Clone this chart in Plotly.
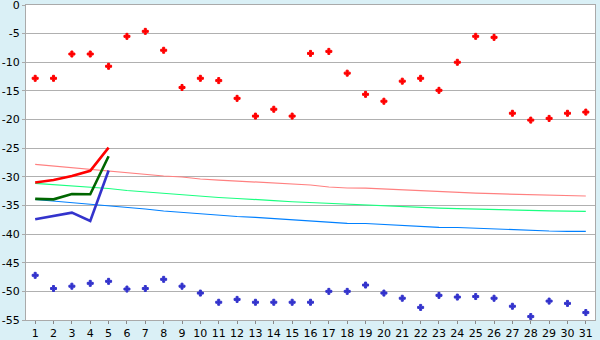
import plotly.graph_objects as go

days = list(range(1, 32))

red_pts = [-12.8, -12.8, -8.56, -8.56, -10.7, -5.47, -4.6, -7.9, -14.4, -12.8,
           -13.2, -16.3, -19.4, -18.2, -19.4, -8.45, -8.1, -11.9, -15.6, -16.8,
           -13.3, -12.8, -14.9, -10.0, -5.47, -5.65, -18.9, -20.1, -19.8, -18.9, -18.7]

blue_pts = [-47.2, -49.5, -49.1, -48.6, -48.25, -49.6, -49.5, -47.9, -49.1, -50.3,
            -51.9, -51.4, -51.9, -51.9, -51.9, -51.9, -50.0, -50.0, -48.9, -50.3,
            -51.2, -52.8, -50.7, -51.0, -50.9, -51.2, -52.6, -54.4, -51.7, -52.1, -53.7]

red_thin = [-27.82, -28.11, -28.46, -28.72, -28.99, -29.34, -29.51, -29.86, -30.03, -30.38,
            -30.56, -30.73, -30.91, -31.08, -31.26, -31.43, -31.78, -31.95, -31.97, -32.13,
            -32.30, -32.48, -32.6, -32.68, -32.83, -32.95, -33.02, -33.15, -33.2, -33.25, -33.35]

green_thin = [-31.13, -31.34, -31.60, -31.87, -32.04, -32.39, -32.65, -32.83, -33.09, -33.35,
              -33.61, -33.79, -33.93, -34.15, -34.35, -34.5, -34.6, -34.75, -34.9, -35.1,
              -35.2, -35.3, -35.45, -35.55, -35.65, -35.75, -35.8, -35.9, -35.95, -36.0, -36.03]

blue_thin = [-33.96, -34.22, -34.49, -34.75, -35.10, -35.36, -35.62, -35.97, -36.23, -36.41,
             -36.67, -36.93, -37.07, -37.28, -37.45, -37.63, -37.94, -38.12, -38.15, -38.33,
             -38.47, -38.64, -38.82, -38.85, -38.99, -39.16, -39.29, -39.37, -39.46, -39.51, -39.51]

thick_days = [1, 2, 3, 4, 5]
red_thick = [-31.0, -30.56, -29.86, -28.95, -24.9]
green_thick = [-33.85, -33.93, -33.0, -33.05, -26.4]
blue_thick = [-37.42, -36.84, -36.26, -37.72, -28.9]

y_ticks = [0, -5, -10, -15, -20, -25, -30, -35, -40, -45, -50, -55]

fig = go.Figure()

for vals, col in [(red_thin, "#ff8080"), (green_thin, "#1aff80"), (blue_thin, "#0080ff")]:
    fig.add_trace(go.Scatter(x=days, y=vals, mode="lines",
                             line=dict(color=col, width=1.2), hoverinfo="skip"))

for vals, col in [(red_thick, "#ff0000"), (green_thick, "#006600"), (blue_thick, "#3333cc")]:
    fig.add_trace(go.Scatter(x=thick_days, y=vals, mode="lines",
                             line=dict(color=col, width=2.6), hoverinfo="skip"))

fig.add_trace(go.Scatter(x=days, y=red_pts, mode="markers",
                         marker=dict(symbol="cross", size=5, color="#ff0000",
                                     line=dict(width=1, color="#ff0000"))))
fig.add_trace(go.Scatter(x=days, y=blue_pts, mode="markers",
                         marker=dict(symbol="cross", size=5, color="#3333cc",
                                     line=dict(width=1, color="#3333cc"))))

fig.update_layout(
    width=600, height=340,
    margin=dict(l=26, r=5, t=5, b=20, autoexpand=False),
    paper_bgcolor="#daf0f6",
    plot_bgcolor="#ffffff",
    showlegend=False,
    font=dict(family="DejaVu Sans", size=11, color="#000000"),
)
fig.update_xaxes(
    range=[0.5, 31.5], tickvals=days, ticktext=[str(d) for d in days],
    showgrid=False, zeroline=False, automargin=False,
    showline=True, linecolor="#aaaaaa", linewidth=1, mirror=True,
    ticks="outside", ticklen=3, tickcolor="#888888", tickwidth=1,
    ticklabeloverflow="allow",
)
fig.update_yaxes(
    range=[-55, 0], tickvals=y_ticks, ticktext=[str(v) for v in y_ticks],
    showgrid=True, gridcolor="#b0b0b0", gridwidth=1, zeroline=False, automargin=False,
    showline=True, linecolor="#aaaaaa", linewidth=1, mirror=True,
    ticks="outside", ticklen=3, tickcolor="#aaaaaa",
    ticklabeloverflow="allow",
)

fig.write_html("out.html")
